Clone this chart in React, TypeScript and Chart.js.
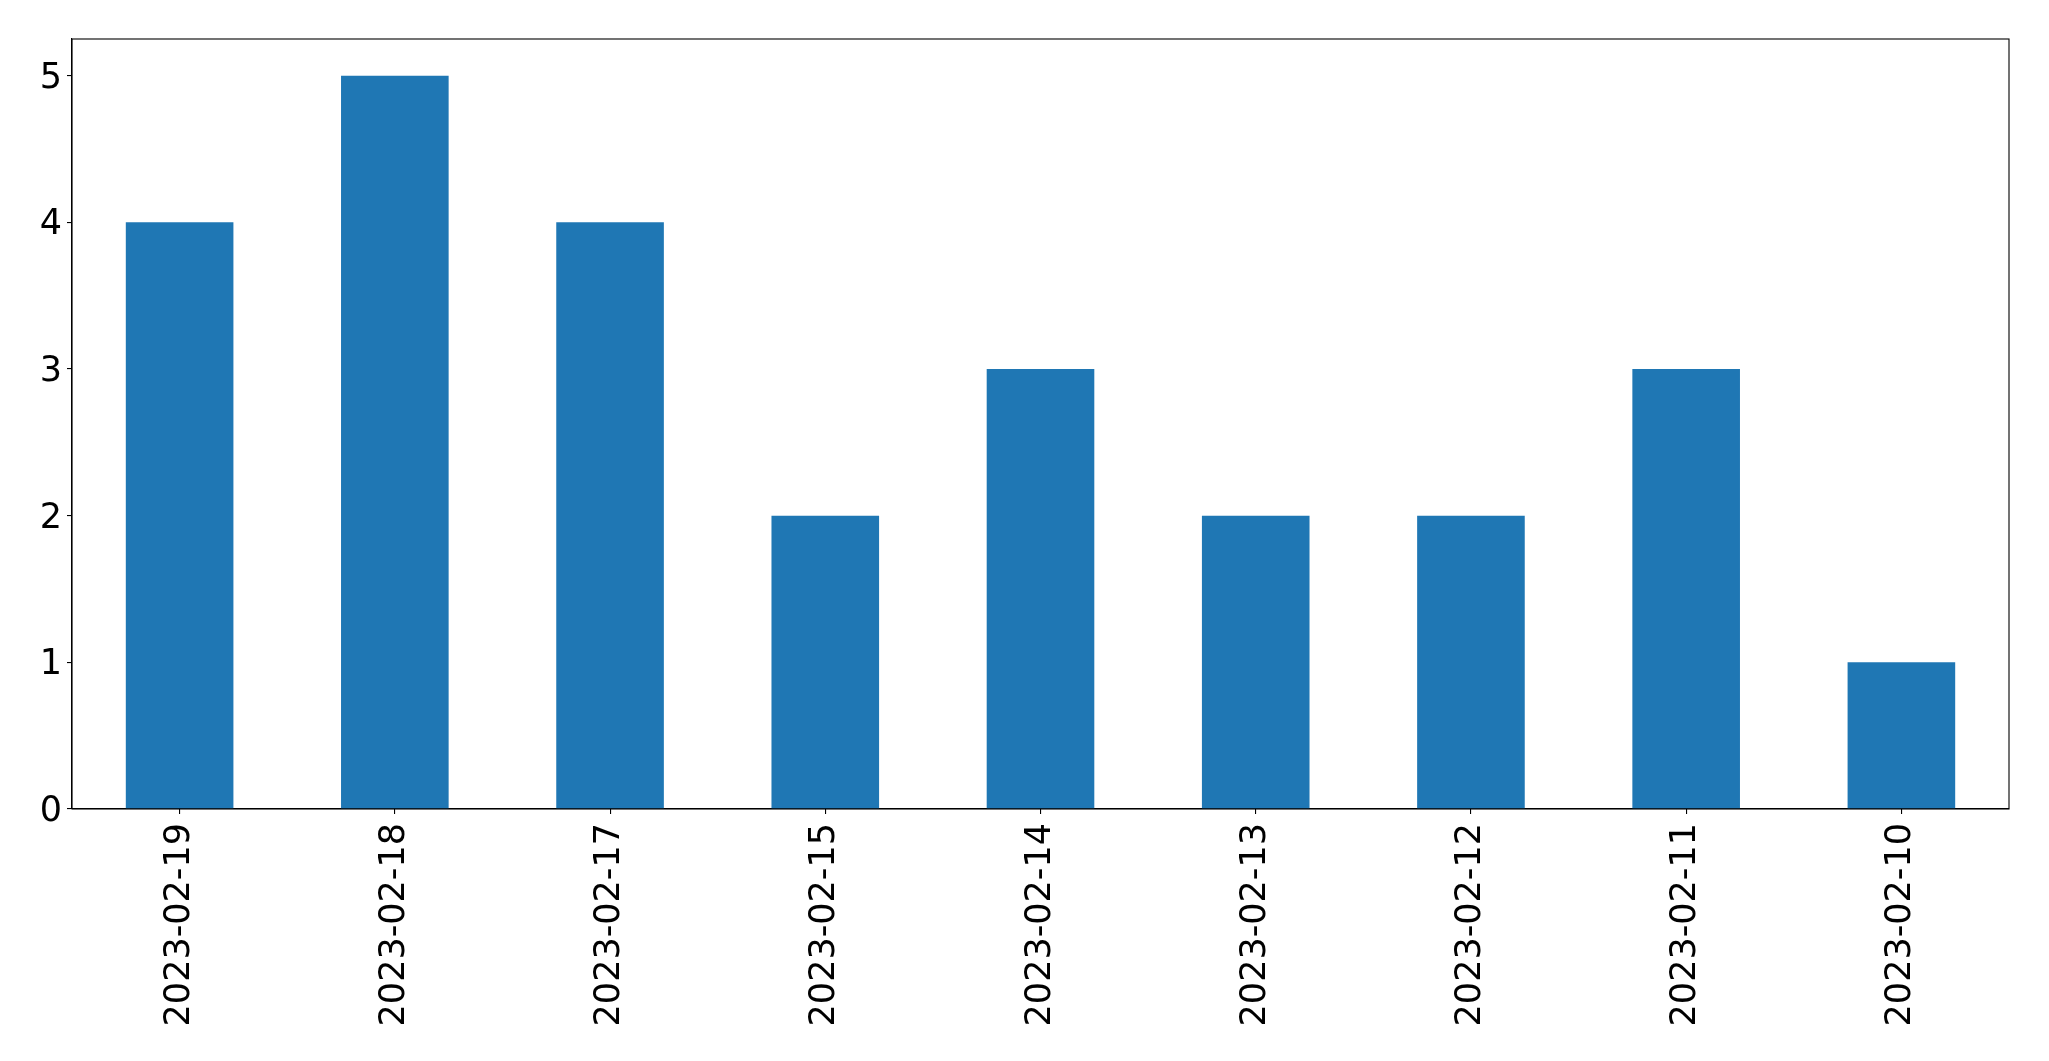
import React, { useEffect, useRef } from "react";
import { Chart, registerables } from "chart.js";

Chart.register(...registerables);

const categories = [
  "2023-02-19",
  "2023-02-18",
  "2023-02-17",
  "2023-02-15",
  "2023-02-14",
  "2023-02-13",
  "2023-02-12",
  "2023-02-11",
  "2023-02-10",
];
const counts = [4, 5, 4, 2, 3, 2, 2, 3, 1];
const yTicks = [0, 1, 2, 3, 4, 5];
const yMax = 5.25;

const W = 2049;
const H = 1061;

const framePlugin = {
  id: "frame",
  afterDraw(chart: any) {
    const { ctx, chartArea } = chart;
    ctx.save();
    ctx.strokeStyle = "#000";
    ctx.lineWidth = 1.1;
    ctx.strokeRect(chartArea.left, chartArea.top, chartArea.right - chartArea.left, chartArea.bottom - chartArea.top);
    ctx.restore();
  },
};

export default function App() {
  const ref = useRef<HTMLCanvasElement | null>(null);
  useEffect(() => {
    if (!ref.current) return;
    const font = { family: "'DejaVu Sans', sans-serif", size: 35 };
    const chart = new Chart(ref.current, {
      type: "bar",
      data: {
        labels: categories,
        datasets: [
          {
            data: counts,
            backgroundColor: "#1f77b4",
            borderWidth: 0,
            barPercentage: 0.5,
            categoryPercentage: 1,
          },
        ],
      },
      plugins: [framePlugin],
      options: {
        responsive: false,
        animation: false,
        devicePixelRatio: 1,
        layout: { padding: { left: 0, top: 39, right: 40, bottom: 0 } },
        plugins: { legend: { display: false }, tooltip: { enabled: false } },
        scales: {
          x: {
            offset: true,
            grid: { display: true, offset: false, drawOnChartArea: false, drawTicks: true, tickLength: 5, color: "#000", lineWidth: 1.1 },
            border: { display: true, color: "#000", width: 1.1 },
            ticks: {
              color: "#000",
              font,
              maxRotation: 90,
              minRotation: 90,
              autoSkip: false,
              padding: 9,
            },
            afterFit(scale: any) {
              scale.height = H - 809;
            },
          },
          y: {
            min: 0,
            max: yMax,
            grid: { display: true, drawOnChartArea: false, drawTicks: true, tickLength: 5, color: "#000", lineWidth: 1.1 },
            border: { display: true, color: "#000", width: 1.1 },
            ticks: {
              color: "#000",
              font,
              stepSize: 1,
              includeBounds: false,
              padding: 5,
              labelOffset: 3,
              callback: (v: any) => (yTicks.includes(Number(v)) ? String(v) : ""),
            },
            afterFit(scale: any) {
              scale.width = 72;
            },
          },
        },
      },
    });
    return () => chart.destroy();
  }, []);
  return (
    <div style={{ position: "fixed", left: 0, top: 0, width: W, height: H, background: "#fff" }}>
      <canvas ref={ref} width={W} height={H} style={{ width: W, height: H, display: "block" }} />
    </div>
  );
}
